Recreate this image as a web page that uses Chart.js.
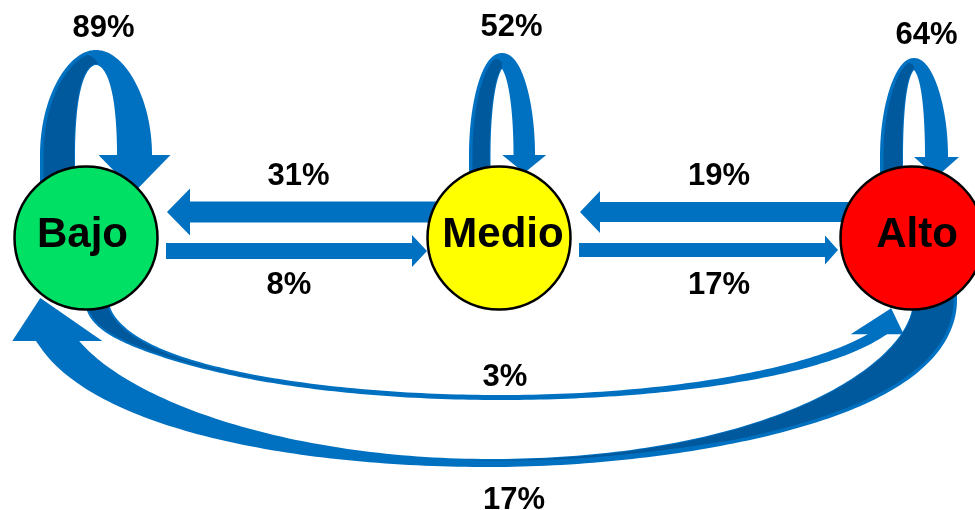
<!DOCTYPE html>
<html>
<head>
<meta charset="utf-8">
<script src="https://cdn.jsdelivr.net/npm/chart.js@4.4.0/dist/chart.umd.min.js"></script>
<style>
  html, body { margin: 0; padding: 0; background: #fff; }
  #grafico { display: block; }
</style>
</head>
<body>
<canvas id="grafico" width="975" height="510"></canvas>
<script>
// estados y porcentaje de transicion de cada estado (fila) a cada estado (columna)
const estados = ['Bajo', 'Medio', 'Alto'];
const desdeBajo = [89, 8, 3];
const desdeMedio = [31, 52, 17];
const desdeAlto = [17, 19, 64];
const transiciones = [desdeBajo, desdeMedio, desdeAlto];

const coloresEstado = ['#00E064', '#FFFF00', '#FF0000'];
const desplazTexto = [-3.5, 4, 5];
const AZUL = '#0070C0';
const AZUL_OSCURO = '#00599C';
const FUENTE = '"Liberation Sans", Arial, sans-serif';

// forma de los bucles (relativa al centro del estado)
const estiloBucle = {
    0: { dx: 10, cy: -83, rx: 38.5, ry: 97.5, ancho: 35, anchoArriba: 15, semi: 36, largo: 37, etq: [7.5, -24] },
    1: { dx: 3, cy: -83, rx: 22.25, ry: 94.5, ancho: 21.5, anchoArriba: 15, semi: 22, largo: 18, etq: [9.5, -28] },
    2: { dx: 2, cy: -81, rx: 22.5, ry: 93, ancho: 23, anchoArriba: 12, semi: 22.5, largo: 20, etq: [12.5, -25] }
};

// flechas rectas entre estados vecinos
const estiloRecta = {
    '1-0': { dy: -26, grosor: 21, semi: 23.5, largo: 23, inicio: 0, fin: 81, etq: [6, -38] },
    '2-1': { dy: -26, grosor: 20, semi: 21, largo: 20, inicio: 0, fin: 81, etq: [13.5, -38] },
    '0-1': { dy: 13, grosor: 16, semi: 16, largo: 15, inicio: 80, fin: 72, etq: [-3.5, 32] },
    '1-2': { dy: 12, grosor: 14, semi: 14.5, largo: 13, inicio: 80, fin: 74, etq: [13.5, 33] }
};

// flechas curvas por debajo (Bajo <-> Alto)
const estiloCurva = {
    '0-2': { dx: 1, cy: 62, rx: 403, ry: 97.5, t0: Math.PI, t1: 0.36, oscuroHasta: 1.95, corte: 0.45, borde: [2, 2],
             izq: [24, 12], der: [11, 2], medio: 5, semi: 26.5, largo: 26, sesgo: 14, etq: [5, -22.5] },
    '2-0': { dx: -10, cy: 62, rx: 446, ry: 163, t0: 0, t1: Math.PI - 0.254, oscuroHasta: 1.65, corte: 0.6, borde: [1, 3.5],
             izq: [36.7, 1.9], der: [44, 3], medio: 8, semi: 45, largo: 43, sesgo: -17, etq: [25, 35] }
};

function puntosElipse(g, t0, t1, anchoEn, extIni, extFin) {
    const n = 160, pts = [];
    const s = t1 > t0 ? 1 : -1;
    for (let k = 0; k <= n; k++) {
        const t = t0 + (t1 - t0) * k / n;
        const tx = -g.rx * Math.sin(t) * s, ty = g.ry * Math.cos(t) * s;
        const l = Math.hypot(tx, ty);
        pts.push({ x: g.cx + g.rx * Math.cos(t), y: g.cy + g.ry * Math.sin(t), tx: tx / l, ty: ty / l, w: anchoEn(t), u: k / n });
    }
    const fin = pts[pts.length - 1];
    if (extIni) { const p = pts[0]; pts.unshift({ ...p, x: p.x - p.tx * extIni, y: p.y - p.ty * extIni }); }
    if (extFin) { pts.push({ ...fin, x: fin.x + fin.tx * extFin, y: fin.y + fin.ty * extFin }); }
    return { pts, fin };
}

// a y b: desplazamientos de cada borde sobre la normal izquierda
function rellenarCinta(ctx, pts, color, a, b) {
    ctx.beginPath();
    pts.forEach((p, i) => {
        const d = a(p);
        const x = p.x - p.ty * d, y = p.y + p.tx * d;
        if (i) ctx.lineTo(x, y); else ctx.moveTo(x, y);
    });
    for (let i = pts.length - 1; i >= 0; i--) {
        const p = pts[i], d = b(p);
        ctx.lineTo(p.x - p.ty * d, p.y + p.tx * d);
    }
    ctx.closePath();
    ctx.fillStyle = color;
    ctx.fill();
}

function cinta(ctx, pts) {
    rellenarCinta(ctx, pts, AZUL, (p) => p.w / 2, (p) => -p.w / 2);
}

// cara oscura (parte trasera de la cinta) que se adelgaza hacia el final
function caraOscura(ctx, pts, borde, corte) {
    const f = (u) => (u < corte ? 1 : Math.max(0, (1 - u) / (1 - corte)));
    rellenarCinta(ctx, pts, AZUL_OSCURO,
        (p) => p.w / 2 - borde[0],
        (p) => p.w / 2 - borde[0] - Math.max(0, p.w - borde[0] - borde[1]) * f(p.u));
}

function punta(ctx, base, dir, semi, largo, sesgo) {
    const nx = -dir[1], ny = dir[0];
    ctx.beginPath();
    ctx.moveTo(base.x + nx * semi, base.y + ny * semi);
    ctx.lineTo(base.x + dir[0] * largo + nx * sesgo, base.y + dir[1] * largo + ny * sesgo);
    ctx.lineTo(base.x - nx * semi, base.y - ny * semi);
    ctx.closePath();
    ctx.fillStyle = AZUL;
    ctx.fill();
}

const etiquetas = [];

const flechas = {
    id: 'flechas',
    beforeDatasetsDraw(chart) {
        const ctx = chart.ctx;
        const px = (i) => chart.scales.x.getPixelForValue(i);
        const py = chart.scales.y.getPixelForValue(0);
        etiquetas.length = 0;
        ctx.save();
        transiciones.forEach((fila, i) => {
            fila.forEach((valor, j) => {
                const texto = valor + '%';
                if (i === j) {
                    const e = estiloBucle[i];
                    const g = { cx: px(i) + e.dx, cy: py + e.cy, rx: e.rx, ry: e.ry };
                    const anchoEn = (t) => e.anchoArriba + (e.ancho - e.anchoArriba) * Math.pow(Math.abs(Math.cos(t)), 2);
                    const c = puntosElipse(g, -Math.PI, 0, anchoEn, 40, 0);
                    cinta(ctx, c.pts);
                    const o = puntosElipse(g, -Math.PI, -Math.PI / 2 + 0.08, anchoEn, 40, 0);
                    caraOscura(ctx, o.pts, [1, 3.5], 0.85);
                    punta(ctx, c.fin, [0, 1], e.semi, e.largo, 0);
                    etiquetas.push([texto, g.cx + e.etq[0], g.cy - g.ry - e.anchoArriba / 2 + e.etq[1]]);
                } else if (Math.abs(i - j) === 1) {
                    const e = estiloRecta[i + '-' + j];
                    const s = j > i ? 1 : -1;
                    const y = py + e.dy;
                    const x0 = px(i) + s * e.inicio;
                    const xt = px(j) - s * e.fin;
                    const xb = xt - s * e.largo;
                    ctx.beginPath();
                    ctx.moveTo(x0, y - e.grosor / 2);
                    ctx.lineTo(xb, y - e.grosor / 2);
                    ctx.lineTo(xb, y - e.semi);
                    ctx.lineTo(xt, y);
                    ctx.lineTo(xb, y + e.semi);
                    ctx.lineTo(xb, y + e.grosor / 2);
                    ctx.lineTo(x0, y + e.grosor / 2);
                    ctx.closePath();
                    ctx.fillStyle = AZUL;
                    ctx.fill();
                    etiquetas.push([texto, (px(i) + px(j)) / 2 + e.etq[0], y + e.etq[1]]);
                } else {
                    const e = estiloCurva[i + '-' + j];
                    const g = { cx: (px(i) + px(j)) / 2 + e.dx, cy: py + e.cy, rx: e.rx, ry: e.ry };
                    const anchoEn = (t) => {
                        const c = Math.cos(t);
                        const lado = c < 0 ? e.izq : e.der;
                        return e.medio + (lado[0] - e.medio) * Math.pow(Math.abs(c), lado[1]);
                    };
                    const c = puntosElipse(g, e.t0, e.t1, anchoEn, 30, 12);
                    cinta(ctx, c.pts);
                    const o = puntosElipse(g, e.t0, e.oscuroHasta, anchoEn, 30, 0);
                    caraOscura(ctx, o.pts, e.borde, e.corte);
                    punta(ctx, c.fin, [0, -1], e.semi, e.largo, e.sesgo);
                    etiquetas.push([texto, g.cx + e.etq[0], g.cy + g.ry + e.etq[1]]);
                }
            });
        });
        ctx.restore();
    },
    afterDatasetsDraw(chart) {
        const ctx = chart.ctx;
        const py = chart.scales.y.getPixelForValue(0);
        ctx.save();
        ctx.fillStyle = '#000';
        ctx.textAlign = 'center';
        ctx.textBaseline = 'alphabetic';
        ctx.font = 'bold 42px ' + FUENTE;
        estados.forEach((nombre, i) => {
            ctx.fillText(nombre, chart.scales.x.getPixelForValue(i) + desplazTexto[i], py + 9);
        });
        ctx.font = 'bold 31px ' + FUENTE;
        etiquetas.forEach(([t, x, y]) => ctx.fillText(t, x, y + 11));
        ctx.restore();
    }
};

const ctx = document.getElementById('grafico').getContext('2d');
new Chart(ctx, {
    type: 'scatter',
    data: {
        datasets: [{
            data: estados.map((nombre, i) => ({ x: i, y: 0 })),
            pointRadius: 71.5,
            pointHoverRadius: 71.5,
            backgroundColor: coloresEstado,
            borderColor: '#000',
            borderWidth: 2.5,
            clip: false
        }]
    },
    options: {
        responsive: false,
        devicePixelRatio: 1,
        animation: false,
        events: [],
        layout: { padding: 0, autoPadding: false },
        plugins: { legend: { display: false }, tooltip: { enabled: false } },
        scales: {
            x: { type: 'linear', min: -0.20824, max: 2.15254, display: false },
            y: { type: 'linear', min: -1.1429, max: 1, display: false }
        }
    },
    plugins: [flechas]
});
</script>
</body>
</html>
